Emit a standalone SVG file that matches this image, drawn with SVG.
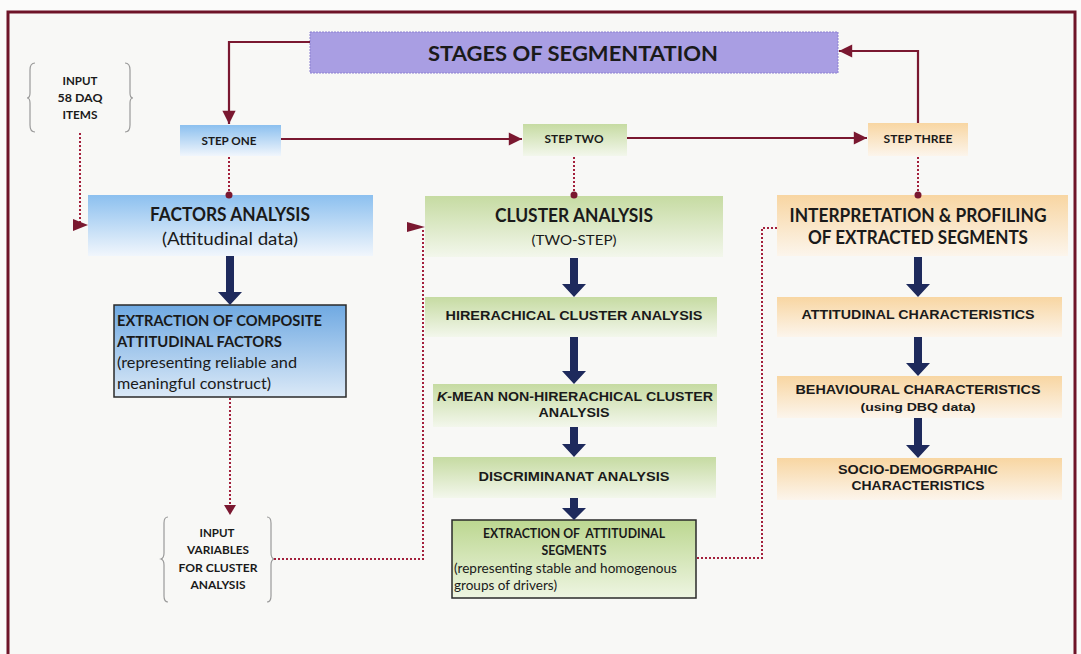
<svg xmlns="http://www.w3.org/2000/svg" width="1081" height="654" viewBox="0 0 1081 654">
  <defs>
    <linearGradient id="gBlue" x1="0" y1="0" x2="0" y2="1">
      <stop offset="0" stop-color="#8cc0ef"/>
      <stop offset="1" stop-color="#f1f6fc"/>
    </linearGradient>
    <linearGradient id="gBlueDeep" x1="0" y1="0" x2="0" y2="1">
      <stop offset="0" stop-color="#6fa9e2"/>
      <stop offset="1" stop-color="#dbe9f7"/>
    </linearGradient>
    <linearGradient id="gGreen" x1="0" y1="0" x2="0" y2="1">
      <stop offset="0" stop-color="#c6dba2"/>
      <stop offset="1" stop-color="#f3f7ec"/>
    </linearGradient>
    <linearGradient id="gGreenDeep" x1="0" y1="0" x2="0" y2="1">
      <stop offset="0" stop-color="#bcd790"/>
      <stop offset="1" stop-color="#eef5e2"/>
    </linearGradient>
    <linearGradient id="gOrange" x1="0" y1="0" x2="0" y2="1">
      <stop offset="0" stop-color="#f8d6a2"/>
      <stop offset="1" stop-color="#fcf5ec"/>
    </linearGradient>
    <marker id="mSolid" viewBox="0 0 10 10" refX="10" refY="5" markerWidth="7" markerHeight="6" markerUnits="strokeWidth" orient="auto">
      <path d="M0,0 L10,5 L0,10 Z" fill="#7a1830"/>
    </marker>
    <style>
      .frame { fill: #f8f8f6; stroke: #6e1428; stroke-width: 3; }
      .solid { fill: none; stroke: #7a1830; stroke-width: 2.2; }
      .dotted { fill: none; stroke: #a3203c; stroke-width: 2; stroke-dasharray: 2 2; }
      .pin { fill: #7a1830; }
      .navy { fill: #1e2a5c; }
      .brace { fill: none; stroke: #9a9a9a; stroke-width: 1.2; }
      .edged { stroke: #2a2a2a; stroke-width: 1.5; }
      .cal { font-family: Lato, "Open Sans", "Liberation Sans", sans-serif; fill: #1a1a1a; }
      .ar { font-family: "Liberation Sans", Arial, sans-serif; font-weight: bold; fill: #1a1a1a; }
      .b { font-weight: bold; }
      .mid { text-anchor: middle; }
      .pre { white-space: pre; }
    </style>
  </defs>

  <rect x="0" y="0" width="1081" height="654" fill="#fbfbfa"/>
  <rect class="frame" x="8" y="12" width="1067" height="700"/>

  <!-- title -->
  <g id="title">
    <rect x="310" y="32" width="528" height="41" fill="#a99ee3" stroke="#8c80d2" stroke-width="1" stroke-dasharray="2 1"/>
    <text class="cal b" x="573" y="61" font-size="21" text-anchor="middle" textLength="290" lengthAdjust="spacingAndGlyphs">STAGES OF SEGMENTATION</text>
  </g>

  <!-- step labels -->
  <g id="step-one">
    <rect x="180" y="125" width="101" height="31" fill="url(#gBlue)"/>
    <text class="cal b mid" x="229" y="145" font-size="12" textLength="55" lengthAdjust="spacingAndGlyphs">STEP ONE</text>
  </g>
  <g id="step-two">
    <rect x="523" y="124" width="104" height="32" fill="url(#gGreen)"/>
    <text class="cal b mid" x="574" y="143" font-size="12" textLength="59" lengthAdjust="spacingAndGlyphs">STEP TWO</text>
  </g>
  <g id="step-three">
    <rect x="868" y="123" width="100" height="33" fill="url(#gOrange)"/>
    <text class="cal b mid" x="918" y="143" font-size="12" textLength="69" lengthAdjust="spacingAndGlyphs">STEP THREE</text>
  </g>

  <!-- input braces -->
  <g id="input-daq">
    <path class="brace" d="M35,63 Q30,63 30,70 V93 Q30,98 27,98 Q30,98 30,103 V125 Q30,132 35,132"/>
    <path class="brace" d="M125,63 Q130,63 130,70 V93 Q130,98 133,98 Q130,98 130,103 V125 Q130,132 125,132"/>
    <text class="cal b mid" x="80" y="85" font-size="11" textLength="35" lengthAdjust="spacingAndGlyphs">INPUT</text>
    <text class="cal b mid" x="80" y="102" font-size="11" textLength="45" lengthAdjust="spacingAndGlyphs">58 DAQ</text>
    <text class="cal b mid" x="80" y="119" font-size="11" textLength="35" lengthAdjust="spacingAndGlyphs">ITEMS</text>
  </g>
  <g id="input-variables">
    <path class="brace" d="M168,517 Q164,517 164,523 V553 Q164,558 161,559 Q164,560 164,565 V596 Q164,602 168,602"/>
    <path class="brace" d="M267,517 Q271,517 271,523 V553 Q271,558 274,559 Q271,560 271,565 V596 Q271,602 267,602"/>
    <text class="cal b mid" x="217" y="537" font-size="11.5" textLength="35" lengthAdjust="spacingAndGlyphs">INPUT</text>
    <text class="cal b mid" x="218" y="554" font-size="11.5" textLength="62" lengthAdjust="spacingAndGlyphs">VARIABLES</text>
    <text class="cal b mid" x="218" y="572" font-size="11.5" textLength="79" lengthAdjust="spacingAndGlyphs">FOR CLUSTER</text>
    <text class="cal b mid" x="218" y="589" font-size="11.5" textLength="55" lengthAdjust="spacingAndGlyphs">ANALYSIS</text>
  </g>

  <!-- step one column -->
  <g id="factors-analysis">
    <rect x="88" y="195" width="285" height="61" fill="url(#gBlue)"/>
    <text class="cal b mid" x="230" y="221" font-size="18" textLength="160" lengthAdjust="spacingAndGlyphs">FACTORS ANALYSIS</text>
    <text class="cal mid" x="230" y="245" font-size="17" textLength="136" lengthAdjust="spacingAndGlyphs">(Attitudinal data)</text>
  </g>
  <g id="composite-factors">
    <rect class="edged" x="114" y="305" width="232" height="92" fill="url(#gBlueDeep)"/>
    <text class="cal b" x="117" y="326" font-size="15" textLength="205" lengthAdjust="spacingAndGlyphs">EXTRACTION OF COMPOSITE</text>
    <text class="cal b" x="117" y="347" font-size="15" textLength="165" lengthAdjust="spacingAndGlyphs">ATTITUDINAL FACTORS</text>
    <text class="cal" x="117" y="368" font-size="15" textLength="180" lengthAdjust="spacingAndGlyphs">(representing reliable and</text>
    <text class="cal" x="117" y="389" font-size="15" textLength="154" lengthAdjust="spacingAndGlyphs">meaningful construct)</text>
  </g>

  <!-- step two column -->
  <g id="cluster-analysis">
    <rect x="425" y="196" width="298" height="61" fill="url(#gGreen)"/>
    <text class="cal b mid" x="574" y="222" font-size="18" textLength="158" lengthAdjust="spacingAndGlyphs">CLUSTER ANALYSIS</text>
    <text class="cal mid" x="574" y="245" font-size="13" textLength="85" lengthAdjust="spacingAndGlyphs">(TWO-STEP)</text>
  </g>
  <g id="hierarchical">
    <rect x="425" y="297" width="292" height="40" fill="url(#gGreen)"/>
    <text class="ar mid" x="574" y="320" font-size="13.5" textLength="257" lengthAdjust="spacingAndGlyphs">HIRERACHICAL CLUSTER ANALYSIS</text>
  </g>
  <g id="k-mean">
    <rect x="433" y="384" width="284" height="43" fill="url(#gGreen)"/>
    <text class="ar" x="437" y="401" font-size="13.5" textLength="276" lengthAdjust="spacingAndGlyphs"><tspan font-style="italic">K</tspan>-MEAN NON-HIRERACHICAL CLUSTER</text>
    <text class="ar mid" x="574" y="417" font-size="13.5" textLength="71" lengthAdjust="spacingAndGlyphs">ANALYSIS</text>
  </g>
  <g id="discriminant">
    <rect x="433" y="457" width="283" height="41" fill="url(#gGreen)"/>
    <text class="ar mid" x="574" y="481" font-size="13.5" textLength="191" lengthAdjust="spacingAndGlyphs">DISCRIMINANAT ANALYSIS</text>
  </g>
  <g id="attitudinal-segments">
    <rect class="edged" x="452" y="520" width="244" height="78" fill="url(#gGreenDeep)"/>
    <text class="cal b mid pre" x="574" y="538" font-size="13" textLength="182" lengthAdjust="spacingAndGlyphs">EXTRACTION OF  ATTITUDINAL</text>
    <text class="cal b mid" x="574" y="555" font-size="13" textLength="65" lengthAdjust="spacingAndGlyphs">SEGMENTS</text>
    <text class="cal" x="454" y="573" font-size="13" textLength="223" lengthAdjust="spacingAndGlyphs">(representing stable and homogenous</text>
    <text class="cal" x="454" y="590" font-size="13" textLength="103" lengthAdjust="spacingAndGlyphs">groups of drivers)</text>
  </g>

  <!-- step three column -->
  <g id="interpretation">
    <rect x="777" y="195" width="291" height="61" fill="url(#gOrange)"/>
    <text class="cal b mid" x="918" y="222" font-size="18" textLength="257" lengthAdjust="spacingAndGlyphs">INTERPRETATION &amp; PROFILING</text>
    <text class="cal b mid" x="918" y="244" font-size="18" textLength="220" lengthAdjust="spacingAndGlyphs">OF EXTRACTED SEGMENTS</text>
  </g>
  <g id="attitudinal-characteristics">
    <rect x="777" y="297" width="285" height="40" fill="url(#gOrange)"/>
    <text class="ar mid" x="918" y="319" font-size="13.5" textLength="233" lengthAdjust="spacingAndGlyphs">ATTITUDINAL CHARACTERISTICS</text>
  </g>
  <g id="behavioural-characteristics">
    <rect x="777" y="376" width="285" height="42" fill="url(#gOrange)"/>
    <text class="ar mid" x="918" y="394" font-size="13.5" textLength="245" lengthAdjust="spacingAndGlyphs">BEHAVIOURAL CHARACTERISTICS</text>
    <text class="ar mid" x="918" y="411" font-size="11.5" textLength="115" lengthAdjust="spacingAndGlyphs">(using DBQ data)</text>
  </g>
  <g id="socio-demographic">
    <rect x="777" y="458" width="285" height="42" fill="url(#gOrange)"/>
    <text class="ar mid" x="918" y="474" font-size="13.5" textLength="160" lengthAdjust="spacingAndGlyphs">SOCIO-DEMOGRPAHIC</text>
    <text class="ar mid" x="918" y="490" font-size="13.5" textLength="133" lengthAdjust="spacingAndGlyphs">CHARACTERISTICS</text>
  </g>

  <!-- connectors -->
  <g id="connectors">
    <!-- title loop and step sequence -->
    <path class="solid" d="M310,42 H229 V124" marker-end="url(#mSolid)"/>
    <path class="solid" d="M281,139 H522" marker-end="url(#mSolid)"/>
    <path class="solid" d="M627,138 H867" marker-end="url(#mSolid)"/>
    <path class="solid" d="M918,123 V51 H839" marker-end="url(#mSolid)"/>

    <!-- step to stage pins -->
    <path class="dotted" d="M229,157 V194"/>
    <circle class="pin" cx="229" cy="195" r="3.5"/>
    <path class="dotted" d="M574,157 V194"/>
    <circle class="pin" cx="574" cy="195" r="3.5"/>
    <path class="dotted" d="M918,157 V194"/>
    <circle class="pin" cx="918" cy="195" r="3.5"/>

    <!-- input feeds -->
    <path class="dotted" d="M80,133 V225"/>
    <path d="M73,219 L88,225 L73,231 Z" class="pin"/>
    <path class="dotted" d="M230,398 V506"/>
    <path d="M224,505 L230,515 L236,505 Z" class="pin"/>
    <path class="dotted" d="M274,559 H423 V228"/>
    <path d="M407,222 L425,227 L407,232 Z" class="pin"/>
    <path class="dotted" d="M697,558 H762 V228 H777"/>

    <!-- stage flow arrows -->
    <path class="navy" d="M226,256 H234 V292 H242 L230,305 L218,292 H226 Z"/>
    <path class="navy" d="M570,258 H578 V284 H586 L574,297 L562,284 H570 Z"/>
    <path class="navy" d="M570,337 H578 V371 H586 L574,384 L562,371 H570 Z"/>
    <path class="navy" d="M570,427 H578 V444 H586 L574,457 L562,444 H570 Z"/>
    <path class="navy" d="M570,498 H578 V508 H586 L574,520 L562,508 H570 Z"/>
    <path class="navy" d="M914,257 H922 V284 H930 L918,297 L906,284 H914 Z"/>
    <path class="navy" d="M914,337 H922 V363 H930 L918,376 L906,363 H914 Z"/>
    <path class="navy" d="M914,418 H922 V445 H930 L918,458 L906,445 H914 Z"/>
  </g>
</svg>
